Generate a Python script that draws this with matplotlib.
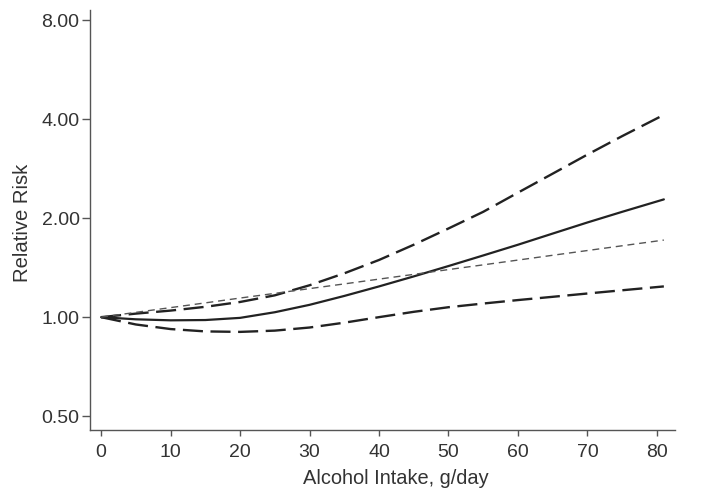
import numpy as np
import matplotlib.pyplot as plt
from matplotlib.ticker import FixedLocator, NullLocator

# alcohol intake, g/day
intake = [0, 5, 10, 15, 20, 25, 30, 35, 40, 45, 50, 55, 60, 65, 70, 75, 81]

# spline estimate and 95% CI
rr_spline = [1.0, 0.985, 0.978, 0.98, 0.995, 1.035, 1.09, 1.16, 1.24, 1.33, 1.43,
             1.54, 1.66, 1.795, 1.94, 2.09, 2.28]
rr_upper = [1.0, 1.025, 1.047, 1.075, 1.112, 1.165, 1.25, 1.359, 1.492, 1.66, 1.86,
            2.09, 2.39, 2.73, 3.12, 3.55, 4.12]
rr_lower = [1.0, 0.95, 0.92, 0.905, 0.902, 0.91, 0.93, 0.962, 1.0, 1.038, 1.072,
            1.10, 1.127, 1.153, 1.18, 1.207, 1.24]
# linear trend
rr_linear = [1.0, 1.034, 1.069, 1.105, 1.143, 1.181, 1.221, 1.262, 1.305, 1.349, 1.395,
             1.442, 1.491, 1.542, 1.594, 1.648, 1.715]

y_ticks = [0.5, 1.0, 2.0, 4.0, 8.0]
x_ticks = [0, 10, 20, 30, 40, 50, 60, 70, 80]

plt.rcParams['font.family'] = ['Liberation Sans', 'DejaVu Sans']

fig = plt.figure(figsize=(7.16, 4.96), dpi=100)
ax = fig.add_axes([0.1257, 0.1331, 0.817, 0.8467])

ax.plot(intake, rr_upper, color='#222222', lw=1.7, dashes=(8.5, 3.2))
ax.plot(intake, rr_lower, color='#222222', lw=1.7, dashes=(8.5, 3.2))
ax.plot(intake, rr_spline, color='#222222', lw=1.6, solid_capstyle='round')
ax.plot(intake, rr_linear, color='#555555', lw=1.0, dashes=(5, 3.5))

ax.set_yscale('log')
ax.set_ylim(0.454, 8.58)
ax.set_xlim(-1.6, 82.6)
ax.yaxis.set_major_locator(FixedLocator(y_ticks))
ax.yaxis.set_minor_locator(NullLocator())
ax.set_yticklabels(['%.2f' % v for v in y_ticks])
ax.set_xticks(x_ticks)

for side in ['top', 'right']:
    ax.spines[side].set_visible(False)
for side in ['left', 'bottom']:
    ax.spines[side].set_color('#555555')
    ax.spines[side].set_linewidth(1.0)

ax.tick_params(axis='both', direction='out', width=1.0, color='#555555',
               labelsize=14, labelcolor='#333333')
ax.tick_params(axis='x', length=4.5, pad=5.5)
ax.tick_params(axis='y', length=6, pad=1.5)

ax.set_xlabel('Alcohol Intake, g/day', fontsize=14.4, color='#333333')
ax.set_ylabel('Relative Risk', fontsize=14.6, color='#333333')
ax.xaxis.set_label_coords(0.523, -0.092)
ax.yaxis.set_label_coords(-0.0995, 0.494)

fig.savefig('out.png', dpi=100)
